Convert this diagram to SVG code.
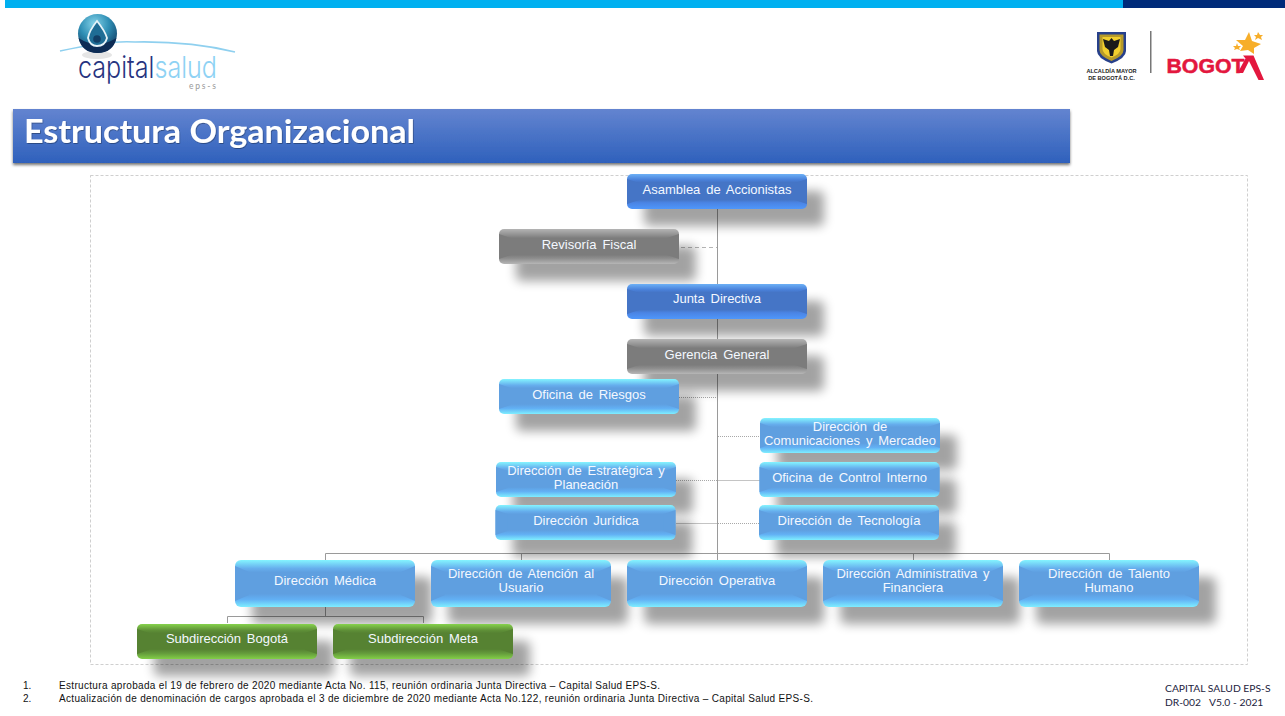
<svg xmlns="http://www.w3.org/2000/svg" xmlns:xlink="http://www.w3.org/1999/xlink" width="1285" height="716" viewBox="0 0 1285 716">
<style>
.t{font-family:"Liberation Sans",Arial,sans-serif;font-size:13px;word-spacing:2.2px;fill:#f4f8ff;text-anchor:middle}
.fn{font-family:"Liberation Sans",Arial,sans-serif;font-size:10px;fill:#111}
.cn{font-family:Lato,"Noto Sans",sans-serif;font-size:10.300px;fill:#1c2340}
.c{fill:none;stroke:#9a9a9a;stroke-width:1}
.cd{fill:none;stroke:#a8a8a8;stroke-width:1;stroke-dasharray:1 1}
.cw{fill:none;stroke:#b5b5b5;stroke-width:1;stroke-dasharray:4 3}
.sh{fill:#000;opacity:.36;filter:url(#blur)}
.side{fill:currentColor}
.logo{font-family:Inter,"Noto Sans",sans-serif;font-size:30px;font-weight:300}
.navy{fill:url(#gNavy);color:#4575c6}.grey{fill:url(#gGrey);color:#7c7c7c}.sky{fill:url(#gSky);color:#5f9fe0}.green{fill:url(#gGreen);color:#568232}
</style>
<defs>
<filter id="blur" x="-20%" y="-60%" width="140%" height="220%"><feGaussianBlur stdDeviation="5.500"/></filter>
<filter id="tshadow" x="-5%" y="-20%" width="110%" height="150%"><feDropShadow dx=".6" dy=".8" stdDeviation=".5" flood-color="#000" flood-opacity=".4"/></filter>
<filter id="bshadow" x="-2%" y="-10%" width="104%" height="125%"><feDropShadow dx="0" dy="2" stdDeviation="1.600" flood-color="#000" flood-opacity=".55"/></filter>
<linearGradient id="gBanner" x1="0" y1="0" x2="0" y2="1"><stop offset="0" stop-color="#6384d0"/><stop offset="1" stop-color="#2f61bc"/></linearGradient>
<linearGradient id="gNavy" x1="0" y1="0" x2="0" y2="1"><stop offset="0" stop-color="#6cb0f6"/><stop offset=".16" stop-color="#4a82db"/><stop offset=".24" stop-color="#4575c6"/><stop offset=".74" stop-color="#4575c6"/><stop offset=".82" stop-color="#4a84e4"/><stop offset="1" stop-color="#4f97fa"/></linearGradient>
<linearGradient id="gGrey" x1="0" y1="0" x2="0" y2="1"><stop offset="0" stop-color="#b4b4b4"/><stop offset=".2" stop-color="#8a8a8a"/><stop offset=".26" stop-color="#7c7c7c"/><stop offset=".74" stop-color="#7c7c7c"/><stop offset=".84" stop-color="#8e8e8e"/><stop offset="1" stop-color="#b6b6b6"/></linearGradient>
<linearGradient id="gSky" x1="0" y1="0" x2="0" y2="1"><stop offset="0" stop-color="#84f4ff"/><stop offset=".18" stop-color="#66aeed"/><stop offset=".26" stop-color="#5f9fe0"/><stop offset=".72" stop-color="#5f9fe0"/><stop offset=".84" stop-color="#62b0f4"/><stop offset="1" stop-color="#7eeeff"/></linearGradient>
<linearGradient id="gGreen" x1="0" y1="0" x2="0" y2="1"><stop offset="0" stop-color="#86d34c"/><stop offset=".18" stop-color="#5f9038"/><stop offset=".26" stop-color="#568232"/><stop offset=".72" stop-color="#568232"/><stop offset=".84" stop-color="#659c3c"/><stop offset="1" stop-color="#83cf48"/></linearGradient>
<radialGradient id="gBall" cx=".42" cy=".25" r=".75"><stop offset="0" stop-color="#84d2e8"/><stop offset=".5" stop-color="#2f8fb5"/><stop offset="1" stop-color="#123f66"/></radialGradient>
<g id="b35"><rect x="17" y="17" width="180" height="35" rx="5" class="sh"/><rect width="180" height="35" rx="5"/><polygon class="side" points="0,5 12,9 12,26 0,30"/><polygon class="side" points="180,5 168,9 168,26 180,30"/></g>
<g id="b47"><rect x="17" y="17" width="180" height="47" rx="6" class="sh"/><rect width="180" height="47" rx="6"/><polygon class="side" points="0,6 14,12 14,35 0,41"/><polygon class="side" points="180,6 166,12 166,35 180,41"/></g>
</defs>
<rect width="1285" height="716" fill="#fff"/>
<g id="topbar"><rect x="5" width="1118" height="8" fill="#00b0f0"/><rect x="1123" width="162" height="8" fill="#002b7a"/></g>
<g id="logo-capital">
<path d="M60 51Q110 40 135 42Q190 41 235 52" fill="none" stroke="#8fd0ef" stroke-width="1.600"/>
<ellipse cx="97" cy="55" rx="15" ry="4" fill="#ccc" opacity=".5"/>
<circle cx="97.500" cy="33.500" r="19.500" fill="url(#gBall)"/>
<path d="M78.500 38Q97 50 116.500 38Q113 53 97.500 53Q82 53 78.500 38Z" fill="#0d2c55"/>
<path d="M97 21Q89 31 88 38Q90 46 97 46Q105 46 107 38Q105 31 97 21Z" fill="#1f6d95" stroke="#e6f3f8" stroke-width="1.800"/>
<circle cx="97" cy="39" r="3.800" fill="#123f66"/>
<text class="logo" x="78" y="78" fill="#26337f" textLength="139" lengthAdjust="spacingAndGlyphs">capital<tspan fill="#8ed2f4">salud</tspan></text>
<text x="189" y="89" font-family="Lato,'Noto Sans',sans-serif" font-size="8.500" fill="#999" textLength="27">eps-s</text>
</g>
<g id="logo-bogota">
<path d="M1097 32H1126V51Q1126 58 1111.500 63.500Q1097 58 1097 51Z" fill="#27408b"/>
<path d="M1099.500 34.500H1123.500V50Q1123.500 56 1111.500 61Q1099.500 56 1099.500 50Z" fill="#b69a2a"/>
<path d="M1102.500 37H1120.500V49Q1120.500 54 1111.500 57.500Q1102.500 54 1102.500 49Z" fill="#f2cf2e"/>
<path d="M1111.500 38L1114 41L1120 39L1118 47L1114 50L1113 56H1110L1109 50L1105 47L1103 39L1109 41Z" fill="#1a1a1a"/>
<text x="1111.500" y="73" text-anchor="middle" font-family="'Liberation Sans',sans-serif" font-size="5.600" font-weight="700" fill="#222">ALCALDÍA MAYOR</text>
<text x="1111.500" y="80" text-anchor="middle" font-family="'Liberation Sans',sans-serif" font-size="5.600" font-weight="700" fill="#222">DE BOGOTÁ D.C.</text>
<rect x="1150" y="31" width="1.500" height="42" fill="#777"/>
<text x="1166.500" y="73" font-family="'Liberation Sans',sans-serif" font-size="20.500" font-weight="700" fill="#e3173e" stroke="#e3173e" stroke-width=".5" textLength="78" lengthAdjust="spacingAndGlyphs">BOGOT</text>
<path d="M1243 55.500H1253.500L1264 80H1258.500L1249 61L1243 73H1237.500L1245.500 58.500Z" fill="#e3173e"/>
<polygon points="1249,32 1252,41 1261,44 1254,48 1254,54 1248,50 1240,51 1243,46 1236,40 1245,40" fill="#f7ae2a"/>
<polygon points="1258,32 1260,35 1263,35 1261,37 1262,40 1258,38 1255,40 1256,37 1254,35 1257,35" fill="#f7ae2a"/>
<polygon points="1237,43 1238,46 1241,46 1239,48 1240,50 1237,49 1234,50 1235,48 1233,46 1236,46" fill="#f7ae2a"/>
</g>
<g id="banner"><rect x="13" y="109" width="1057" height="54" fill="url(#gBanner)" filter="url(#bshadow)"/>
<text x="24" y="143" font-family="Lato,'Noto Sans',sans-serif" font-size="32" font-weight="700" fill="#fff" filter="url(#tshadow)" textLength="391" lengthAdjust="spacingAndGlyphs">Estructura Organizacional</text></g>
<rect id="frame" x="90.500" y="175.500" width="1157" height="489" fill="#fff" stroke="#cfcfcf" stroke-width="1" stroke-dasharray="3 2"/>
<g id="connectors">
<path class="c" d="M717.500 209V553M325.500 560V553.500H1109.500V560M521.500 553.500V560M717.500 553.500V560M913.500 553.500V560"/>
<path class="c" d="M325.500 607V616.500M227.500 623V616.500H423.500V623"/>
<path class="cw" d="M681 247.500H717"/>
<path class="cd" d="M679 397.500H717M718 436.500H760M676 480.500H717M718 523.500H759"/>
<path d="M718 480.500H760M676 523.500H717" fill="none" stroke="#c4c4c4"/>
</g>
<g id="n-asamblea"><use href="#b35" class="navy" x="627" y="174"/><text class="t" x="717" y="194">Asamblea de Accionistas</text></g>
<g id="n-revisoria"><use href="#b35" class="grey" x="499" y="229"/><text class="t" x="589" y="249">Revisoría Fiscal</text></g>
<g id="n-junta"><use href="#b35" class="navy" x="627" y="284"/><text class="t" x="717" y="303">Junta Directiva</text></g>
<g id="n-gerencia"><use href="#b35" class="grey" x="627" y="339"/><text class="t" x="717" y="359">Gerencia General</text></g>
<g id="n-riesgos"><use href="#b35" class="sky" x="499" y="379"/><text class="t" x="589" y="399">Oficina de Riesgos</text></g>
<g id="n-comunicaciones"><use href="#b35" class="sky" x="760" y="418"/><text class="t" x="850" y="431">Dirección de</text><text class="t" x="850" y="445">Comunicaciones y Mercadeo</text></g>
<g id="n-estrategica"><use href="#b35" class="sky" x="496" y="462"/><text class="t" x="586" y="475">Dirección de Estratégica y</text><text class="t" x="586" y="489">Planeación</text></g>
<g id="n-control"><use href="#b35" class="sky" x="759.500" y="462"/><text class="t" x="849.500" y="482">Oficina de Control Interno</text></g>
<g id="n-juridica"><use href="#b35" class="sky" x="495.500" y="505"/><text class="t" x="586" y="525">Dirección Jurídica</text></g>
<g id="n-tecnologia"><use href="#b35" class="sky" x="759" y="505"/><text class="t" x="849" y="525">Dirección de Tecnología</text></g>
<g id="n-medica"><use href="#b47" class="sky" x="235" y="560"/><text class="t" x="325" y="585">Dirección Médica</text></g>
<g id="n-atencion"><use href="#b47" class="sky" x="431" y="560"/><text class="t" x="521" y="578">Dirección de Atención al</text><text class="t" x="521" y="592">Usuario</text></g>
<g id="n-operativa"><use href="#b47" class="sky" x="627" y="560"/><text class="t" x="717" y="585">Dirección Operativa</text></g>
<g id="n-administrativa"><use href="#b47" class="sky" x="823" y="560"/><text class="t" x="913" y="578">Dirección Administrativa y</text><text class="t" x="913" y="592">Financiera</text></g>
<g id="n-talento"><use href="#b47" class="sky" x="1019" y="560"/><text class="t" x="1109" y="578">Dirección de Talento</text><text class="t" x="1109" y="592">Humano</text></g>
<g id="n-bogota"><use href="#b35" class="green" x="137" y="624"/><text class="t" x="227" y="643">Subdirección Bogotá</text></g>
<g id="n-meta"><use href="#b35" class="green" x="333" y="624"/><text class="t" x="423" y="643">Subdirección Meta</text></g>
<g id="notes">
<text class="fn" x="23" y="689">1.</text><text class="fn" x="59" y="689" textLength="601">Estructura aprobada el 19 de febrero de 2020 mediante Acta No. 115, reunión ordinaria Junta Directiva – Capital Salud EPS-S.</text>
<text class="fn" x="23" y="702">2.</text><text class="fn" x="59" y="702" textLength="754">Actualización de denominación de cargos aprobada el 3 de diciembre de 2020 mediante Acta No.122, reunión ordinaria Junta Directiva – Capital Salud EPS-S.</text>
<text class="cn" x="1165" y="692">CAPITAL SALUD EPS-S</text>
<text class="cn" x="1165" y="706">DR-002<tspan x="1209">V5.0 - 2021</tspan></text>
</g>
</svg>
